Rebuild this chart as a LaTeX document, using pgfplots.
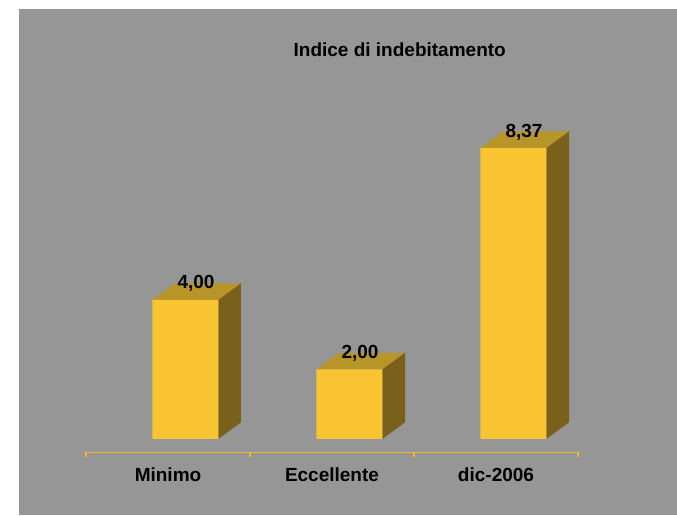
\documentclass[border=0pt]{standalone}
\usepackage{pgfplots}
\pgfplotsset{compat=1.18}
\usepackage{fontspec}
\setmainfont{Liberation Sans}
\definecolor{bg}{RGB}{150,150,150}
\definecolor{front}{RGB}{248,196,50}
\definecolor{topc}{RGB}{184,149,40}
\definecolor{side}{RGB}{122,97,27}
\definecolor{axc}{RGB}{235,185,45}
\newcommand\lbl{\fontsize{19}{22}\selectfont\bfseries}
% top and side faces of a 3D bar: #1 category position, #2 value
\newcommand\facebar[2]{%
  \pgfmathsetmacro\xl{#1-0.0957}%
  \pgfmathsetmacro\xr{#1+0.3067}%
  \pgfmathsetmacro\xlb{#1-0.0957+0.1384}%
  \pgfmathsetmacro\xrb{#1+0.3067+0.1384}%
  \pgfmathsetmacro\vb{#2+0.4806}%
  \addplot[fill=topc,draw=none,forget plot] coordinates {(\xl,#2) (\xr,#2) (\xrb,\vb) (\xlb,\vb)} -- cycle;
  \addplot[fill=side,draw=none,forget plot] coordinates {(\xr,0) (\xrb,0.4806) (\xrb,\vb) (\xr,#2)} -- cycle;
}
\begin{document}
\begin{tikzpicture}[x=1pt,y=1pt]
\fill[white] (0,0) rectangle (677,515);
\fill[bg] (19,0) rectangle (677,506);
\node[anchor=base, font=\lbl, text=black] at (399.7,458) {Indice di indebitamento};
\begin{axis}[
  at={(86pt,62.7pt)}, anchor=south west,
  x=164pt, y=34.75pt,
  xmin=-0.5, xmax=2.5, ymin=-0.383, ymax=9,
  clip=false,
  axis x line*=bottom, axis y line=none,
  x axis line style={draw=axc, line width=1.2pt},
  xtick={0,1,2},
  xticklabels={Minimo,Eccellente,dic-2006},
  major tick length=0pt,
  major x tick style={draw=none},
  minor xtick={-0.5,0.5,1.5,2.5},
  minor tick length=5pt,
  tick align=outside,
  minor x tick style={draw=axc, line width=1.2pt},
  xticklabel style={font=\lbl, text=black, anchor=base, yshift=-28.7pt},
]
\facebar{0}{4.00}
\facebar{1}{2.00}
\facebar{2}{8.37}
\addplot[ybar, bar width=66pt, bar shift=17.3pt, fill=front, draw=none,
  nodes near coords={\lbl\pgfmathprintnumber[fixed, fixed zerofill, precision=2, use comma, assume math mode=true]{\pgfplotspointmeta}},
  every node near coord/.append style={text=black, anchor=base, xshift=28pt, yshift=11pt}]
  coordinates {(0,4.00) (1,2.00) (2,8.37)};
\end{axis}
\end{tikzpicture}
\end{document}
